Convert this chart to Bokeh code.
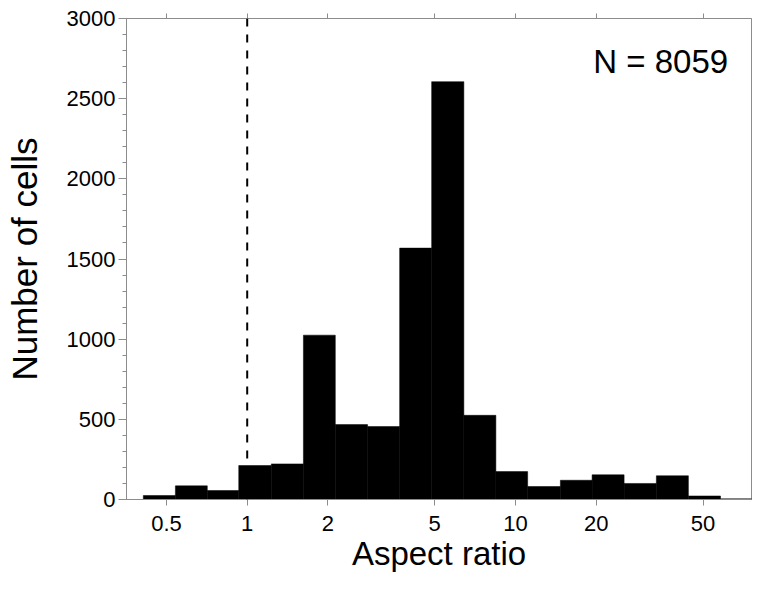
from bokeh.plotting import figure
from bokeh.models import (Range1d, FixedTicker, CustomJSTickFormatter, LogAxis,
                          Span, Label, ColumnDataSource)
from bokeh.embed import file_html
from bokeh.resources import INLINE

# Histogram bin edges (aspect ratio, log-spaced) and counts
bin_edges = [0.41, 0.54, 0.71, 0.93, 1.23, 1.62, 2.13, 2.81, 3.70, 4.87,
             6.42, 8.45, 11.1, 14.7, 19.3, 25.4, 33.5, 44.1, 58.1, 76.6]
counts = [25, 85, 56, 212, 222, 1025, 467, 455, 1568, 2606,
          525, 174, 81, 120, 154, 100, 148, 22, 4]
x_ticks = [0.5, 1, 2, 5, 10, 20, 50]
y_ticks = [0, 500, 1000, 1500, 2000, 2500, 3000]
ref_line = 1.0
n_text = "N = 8059"
x_title = "Aspect ratio"
y_title = "Number of cells"

FONT = "Liberation Sans"
AXIS_GREY = "#8c8c8c"

p = figure(width=752, height=578, x_axis_type="log",
           x_range=Range1d(0.3549, 75.8), y_range=Range1d(0, 3000),
           output_backend="svg", toolbar_location=None,
           min_border_left=126, min_border_right=1,
           min_border_top=18, min_border_bottom=79)

src = ColumnDataSource(dict(left=bin_edges[:-1], right=bin_edges[1:], top=counts))
p.quad(left="left", right="right", bottom=0, top="top", source=src,
       fill_color="black", line_color="black", line_width=0.5)

p.add_layout(Span(location=ref_line, dimension="height", line_color="black",
                  line_width=2, line_dash="8 8"))

p.add_layout(Label(x=19.5, y=2847, text=n_text, text_font=FONT,
                   text_font_size="33px", text_color="black",
                   text_baseline="top"))

p.grid.visible = False
p.outline_line_color = AXIS_GREY
p.outline_line_width = 1
p.background_fill_color = "white"
p.border_fill_color = "white"

xa = p.xaxis[0]
xa.ticker = FixedTicker(ticks=x_ticks, minor_ticks=[])
xa.formatter = CustomJSTickFormatter(code="return tick.toString();")
xa.axis_label = x_title
xa.axis_label_text_font = FONT
xa.axis_label_text_font_size = "33px"
xa.axis_label_text_font_style = "normal"
xa.axis_label_text_color = "black"
xa.axis_label_standoff = 1
xa.major_label_text_font = FONT
xa.major_label_text_font_size = "22px"
xa.major_label_text_color = "black"
xa.major_label_standoff = 10
xa.axis_line_color = AXIS_GREY
xa.major_tick_line_color = AXIS_GREY
xa.major_tick_out = 6
xa.major_tick_in = 0
xa.minor_tick_out = 0
xa.minor_tick_in = 0

ya = p.yaxis[0]
ya.ticker = FixedTicker(ticks=y_ticks,
                        minor_ticks=[v for v in range(0, 3001, 100)])
ya.axis_label = y_title
ya.axis_label_text_font = FONT
ya.axis_label_text_font_size = "35px"
ya.axis_label_text_font_style = "normal"
ya.axis_label_text_color = "black"
ya.axis_label_standoff = 20
ya.major_label_text_font = FONT
ya.major_label_text_font_size = "22px"
ya.major_label_text_color = "black"
ya.major_label_standoff = 3
ya.axis_line_color = AXIS_GREY
ya.major_tick_line_color = AXIS_GREY
ya.minor_tick_line_color = AXIS_GREY
ya.major_tick_out = 8
ya.major_tick_in = 0
ya.minor_tick_out = 4
ya.minor_tick_in = 0

top_axis = LogAxis(ticker=FixedTicker(ticks=x_ticks, minor_ticks=[]),
                   formatter=CustomJSTickFormatter(code="return '';"),
                   major_label_standoff=0,
                   axis_line_color=AXIS_GREY, major_tick_line_color=AXIS_GREY,
                   major_tick_out=5, major_tick_in=0,
                   minor_tick_out=0, minor_tick_in=0)
p.add_layout(top_axis, "above")

open("out.html", "w").write(file_html(p, INLINE))
